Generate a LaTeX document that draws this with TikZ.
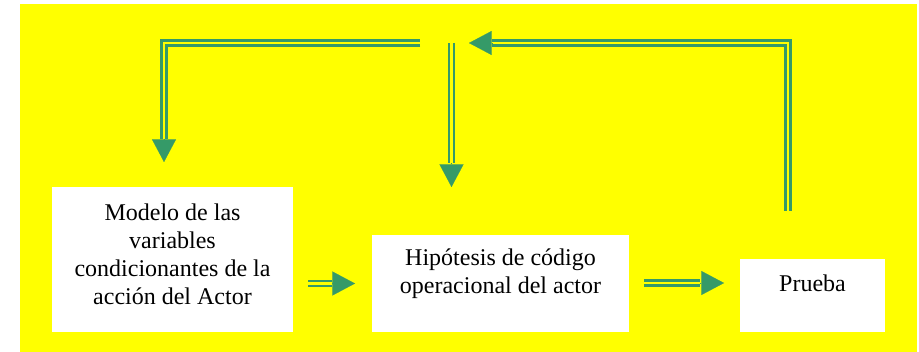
\documentclass[tikz,border=0pt]{standalone}
\usepackage{fontspec}
\setmainfont{Liberation Serif}
\newfontfamily\boxfont{Liberation Serif}
\usepackage{tikz}
\usetikzlibrary{arrows.meta}
\definecolor{flowgreen}{HTML}{359A68}
\definecolor{bgyellow}{HTML}{FFFF00}

\begin{document}
\begin{tikzpicture}[x=0.75pt,y=-0.75pt,
    box/.style={fill=white,draw=none,inner sep=0pt},
    txt/.style={align=center,inner sep=0pt,font=\boxfont\fontsize{18}{21}\selectfont},
    shaft/.style={draw=flowgreen,double=bgyellow,line width=1.8pt,double distance=2.2pt},
    tip/.style={draw=flowgreen,line width=0.1pt,-{Triangle[width=18pt,length=17pt]}}]
    \useasboundingbox (0,0) rectangle (919,352);
    \fill[bgyellow] (20,4) rectangle (917,352);

    \node[box,minimum width=181pt,minimum height=109pt] (modelo) at (172.5,259.5) {};
    \node[txt] (modelotxt) at ([yshift=4pt]modelo.center) {Modelo de las\\variables\\condicionantes de la\\acci\'on del Actor};
    \node[box,minimum width=193pt,minimum height=73pt] (hipotesis) at (500.5,283.5) {};
    \node[txt] (hipotesistxt) at ([yshift=7.5pt]hipotesis.center) {Hip\'otesis de c\'odigo\\operacional del actor};
    \node[box,minimum width=109pt,minimum height=55pt] (prueba) at (812.5,295.5) {};
    \node[txt] (pruebatxt) at ([yshift=9pt]prueba.center) {Prueba};

    \coordinate (split) at (420,43);
    \coordinate (leftend) at (164,139);
    \coordinate (lefttip) at (164,162);
    \coordinate (midstart) at (451.5,43);
    \coordinate (midend) at (451.5,163);
    \coordinate (midtip) at (451.5,187);
    \coordinate (backstart) at (788,211);
    \coordinate (backend) at (492,43);
    \coordinate (backtip) at (469,43);
    \coordinate (mhstart) at (308,283.5);
    \coordinate (mhend) at (332,283.5);
    \coordinate (mhtip) at (355,283.5);
    \coordinate (hpstart) at (644,283);
    \coordinate (hpend) at (700,283);
    \coordinate (hptip) at (724,283);

    \draw[shaft] (split) -| (leftend);
    \draw[tip] (leftend) -- (lefttip);
    \draw[shaft] (midstart) -- (midend);
    \draw[tip] (midend) -- (midtip);
    \draw[shaft] (backstart) |- (backend);
    \draw[tip] (backend) -- (backtip);
    \draw[shaft] (mhstart) -- (mhend);
    \draw[tip] (mhend) -- (mhtip);
    \draw[shaft] (hpstart) -- (hpend);
    \draw[tip] (hpend) -- (hptip);
\end{tikzpicture}
\end{document}
